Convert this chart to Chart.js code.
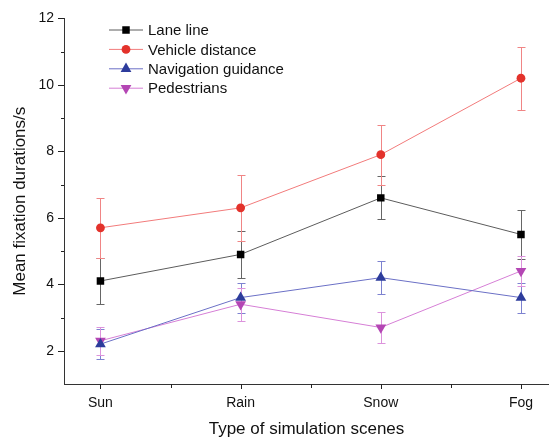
<!DOCTYPE html>
<html lang="en">
<head>
  <meta charset="UTF-8" />
  <title>Mean fixation durations by scene</title>
  <style>
    html, body { margin: 0; padding: 0; background: #fff; }
    #wrap { width: 549px; height: 440px; position: relative; }
  </style>
  <script src="https://cdn.jsdelivr.net/npm/chart.js"></script>
</head>
<body>
  <div id="wrap"><canvas id="fixChart"></canvas></div>

  <script>
    // scenes on the x axis
    const categories = ["Sun", "Rain", "Snow", "Fog"];
    const yTicks = [2, 4, 6, 8, 10, 12];

    // mean fixation durations (s) and their error bars
    const laneLine = [4.1, 4.9, 6.6, 5.5];
    const laneLineErr = [0.7, 0.7, 0.65, 0.75];
    const vehicleDistance = [5.7, 6.3, 7.9, 10.2];
    const vehicleDistanceErr = [0.9, 1.0, 0.9, 0.95];
    const navigationGuidance = [2.2, 3.6, 4.2, 3.6];
    const navigationGuidanceErr = [0.45, 0.45, 0.5, 0.45];
    const pedestrians = [2.3, 3.4, 2.7, 4.4];
    const pedestriansErr = [0.42, 0.5, 0.47, 0.45];

    const FONT = "'Liberation Sans', Arial, sans-serif";

    function toPoints(vals) {
      return vals.map((v, i) => ({ x: i, y: v }));
    }

    function series(label, vals, err, line, marker, errColor, style, radius, rot) {
      return {
        label: label,
        data: toPoints(vals),
        err: err,
        errColor: errColor,
        borderColor: line,
        backgroundColor: marker,
        pointBackgroundColor: marker,
        pointBorderColor: marker,
        pointBorderWidth: 0,
        pointStyle: style,
        pointRadius: radius,
        pointRotation: rot || 0,
        borderWidth: 1,
        tension: 0,
        fill: false,
      };
    }

    // vertical error bars with small caps, drawn under the markers
    const errorBars = {
      id: "errorBars",
      beforeDatasetsDraw(chart) {
        const ctx = chart.ctx;
        const xs = chart.scales.x, ys = chart.scales.y;
        ctx.save();
        ctx.lineWidth = 1;
        chart.data.datasets.forEach((ds) => {
          ctx.strokeStyle = ds.errColor;
          ds.data.forEach((p, i) => {
            const x = Math.round(xs.getPixelForValue(p.x)) + 0.5;
            const top = Math.round(ys.getPixelForValue(p.y + ds.err[i])) + 0.5;
            const bot = Math.round(ys.getPixelForValue(p.y - ds.err[i])) + 0.5;
            ctx.beginPath();
            ctx.moveTo(x, top); ctx.lineTo(x, bot);
            ctx.moveTo(x - 4, top); ctx.lineTo(x + 4, top);
            ctx.moveTo(x - 4, bot); ctx.lineTo(x + 4, bot);
            ctx.stroke();
          });
        });
        ctx.restore();
      },
    };

    // outward major/minor tick marks on both axes
    const axisTicks = {
      id: "axisTicks",
      afterDraw(chart) {
        const ctx = chart.ctx;
        const xs = chart.scales.x, ys = chart.scales.y;
        const area = chart.chartArea;
        ctx.save();
        ctx.strokeStyle = "#222";
        ctx.lineWidth = 1;
        ctx.beginPath();
        for (let v = 2; v <= 12; v++) {
          const y = Math.round(ys.getPixelForValue(v)) + 0.5;
          const len = v % 2 === 0 ? 6 : 3;
          ctx.moveTo(area.left, y); ctx.lineTo(area.left - len, y);
        }
        for (let k = 0; k <= 6; k++) {
          const x = Math.round(xs.getPixelForValue(k / 2)) + 0.5;
          const len = k % 2 === 0 ? 5 : 4;
          ctx.moveTo(x, area.bottom); ctx.lineTo(x, area.bottom + len);
        }
        ctx.stroke();
        ctx.restore();
      },
    };

    // legend: short line with the marker in the middle, label to the right
    const lineLegend = {
      id: "lineLegend",
      afterDraw(chart) {
        const ctx = chart.ctx;
        ctx.save();
        ctx.font = "15px " + FONT;
        ctx.textBaseline = "middle";
        ctx.textAlign = "left";
        chart.data.datasets.forEach((ds, i) => {
          const y = 30 + i * 19.4;
          ctx.strokeStyle = ds.borderColor;
          ctx.lineWidth = 1;
          ctx.beginPath();
          ctx.moveTo(109, y); ctx.lineTo(143, y);
          ctx.stroke();
          ctx.fillStyle = ds.pointBackgroundColor;
          ctx.strokeStyle = ds.pointBackgroundColor;
          Chart.helpers.drawPoint(ctx, {
            pointStyle: ds.pointStyle,
            rotation: ds.pointRotation,
            radius: ds.pointRadius,
            borderWidth: 0,
          }, 126, y);
          ctx.fillStyle = "#111";
          ctx.fillText(ds.label, 148, y + 1);
        });
        ctx.restore();
      },
    };

    const datasets = [
      series("Lane line", laneLine, laneLineErr, "#5c5c5c", "#000000", "#666666", "rect", 5.3),
      series("Vehicle distance", vehicleDistance, vehicleDistanceErr, "#f27b7b", "#e3322b", "#f08585", "circle", 4.4),
      series("Navigation guidance", navigationGuidance, navigationGuidanceErr, "#6b70c6", "#2d3c9c", "#7d82d0", "triangle", 6.2),
      series("Pedestrians", pedestrians, pedestriansErr, "#d67fd6", "#b446b4", "#dc93dc", "triangle", 6.2, 180),
    ];

    new Chart(document.getElementById("fixChart"), {
      type: "line",
      data: { datasets: datasets },
      options: {
        responsive: true,
        maintainAspectRatio: false,
        animation: false,
        layout: {
          autoPadding: false,
          padding: { top: 16, right: 0, left: 0, bottom: 0 },
        },
        plugins: {
          legend: { display: false },
          tooltip: { enabled: false },
        },
        scales: {
          x: {
            type: "linear",
            min: -0.26,
            max: 3.2,
            afterBuildTicks: (s) => { s.ticks = categories.map((_, i) => ({ value: i })); },
            afterFit: (s) => {
              s.height = 56;
              s.paddingLeft = 0;
              s.paddingRight = 0;
            },
            grid: { display: false, tickLength: 0 },
            border: { display: true, color: "#333", width: 1 },
            ticks: {
              padding: 11,
              color: "#111",
              font: { family: FONT, size: 14 },
              callback: (v) => categories[v],
            },
            title: {
              display: true,
              text: "Type of simulation scenes",
              color: "#111",
              font: { family: FONT, size: 17 },
              padding: { top: 0, bottom: 0 },
            },
          },
          y: {
            min: 1,
            max: 12,
            afterBuildTicks: (s) => { s.ticks = yTicks.map((v) => ({ value: v })); },
            afterFit: (s) => { s.width = 64; },
            grid: { display: false, tickLength: 0 },
            border: { display: true, color: "#333", width: 1 },
            ticks: {
              padding: 10,
              color: "#111",
              font: { family: FONT, size: 14 },
            },
            title: {
              display: true,
              text: "Mean fixation durations/s",
              color: "#111",
              font: { family: FONT, size: 17 },
              padding: { top: 10, bottom: 0 },
            },
          },
        },
      },
      plugins: [errorBars, axisTicks, lineLegend],
    });
  </script>
</body>
</html>
